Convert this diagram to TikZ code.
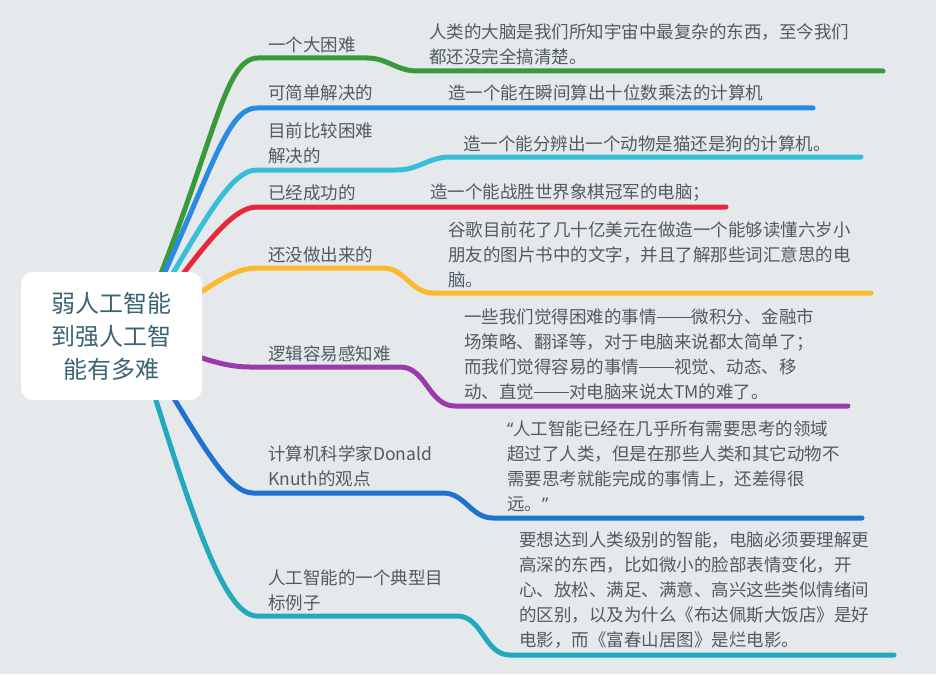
\documentclass[tikz,border=0pt]{standalone}
\usepackage{fontspec}
\newfontfamily\cjkfont{Noto Sans CJK SC}
\newfontfamily\quotefont{Noto Sans}
\usetikzlibrary{backgrounds}

\definecolor{canvasgray}{HTML}{E6E9EC}
\definecolor{textgray}{HTML}{4F5B63}
\definecolor{roottext}{HTML}{3C6475}
\definecolor{cGreen}{HTML}{3A9A3A}
\definecolor{cBlue}{HTML}{2A8BE3}
\definecolor{cCyan}{HTML}{37BFD9}
\definecolor{cRed}{HTML}{E7283A}
\definecolor{cYellow}{HTML}{FBBA2E}
\definecolor{cPurple}{HTML}{9A3AAE}
\definecolor{cDeepBlue}{HTML}{1F72CF}
\definecolor{cTeal}{HTML}{22A9BE}

\newcommand\cjkdash{\rule[0.33em]{2em}{0.06em}}

\tikzset{
  branch/.style={line width=5pt, line cap=round},
  topic/.style={anchor=west, align=left, inner sep=0pt, text=textgray,
    font=\cjkfont\fontsize{17.5}{25}\selectfont},
  detail/.style={topic},
  rootbox/.style={fill=white, rounded corners=12pt, minimum width=181pt,
    minimum height=128pt, align=center, inner sep=0pt, text=roottext,
    font=\cjkfont\fontsize{24}{33}\selectfont}
}

\begin{document}
\begin{tikzpicture}[x=1pt,y=-1pt]
\useasboundingbox (0,0) rectangle (936,674);
\begin{scope}[on background layer]
\fill[canvasgray] (0,0) rectangle (936,674);
\end{scope}

% central topic
\node[rootbox] (root) at (111.5,336) {弱人工智能\\到强人工智\\能有多难};
\coordinate (hub) at ([xshift=24pt]root.center);

% branch labels
\node[topic] (easyhard) at (268,45) {一个大困难};
\node[topic] (simple) at (268,93) {可简单解决的};
\node[topic] (harder) at (268,143.5) {目前比较困难\\解决的};
\node[topic] (done) at (268,193) {已经成功的};
\node[topic] (notyet) at (268,255) {还没做出来的};
\node[topic] (logic) at (268,354) {逻辑容易感知难};
\node[topic] (knuth) at (268,466) {计算机科学家Donald\\Knuth的观点};
\node[topic] (goal) at (268,590.5) {人工智能的一个典型目\\标例子};

% details
\node[detail] (brain) at (429,44.5) {人类的大脑是我们所知宇宙中最复杂的东西，至今我们\\都还没完全搞清楚。};
\node[detail] (multiply) at (448,93) {造一个能在瞬间算出十位数乘法的计算机};
\node[detail] (catdog) at (463,144) {造一个能分辨出一个动物是猫还是狗的计算机。};
\node[detail] (chess) at (430,193) {造一个能战胜世界象棋冠军的电脑；};
\node[detail] (google) at (448,255) {谷歌目前花了几十亿美元在做造一个能够读懂六岁小\\朋友的图片书中的文字，并且了解那些词汇意思的电\\脑。};
\node[detail] (paradox) at (464,354.5) {一些我们觉得困难的事情\cjkdash 微积分、金融市\\场策略、翻译等，对于电脑来说都太简单了；\\而我们觉得容易的事情\cjkdash 视觉、动态、移\\动、直觉\cjkdash 对电脑来说太TM的难了。};
\node[detail] (quote) at (507,466) {{\quotefont “}人工智能已经在几乎所有需要思考的领域\\超过了人类，但是在那些人类和其它动物不\\需要思考就能完成的事情上，还差得很\\远。{\quotefont ”}};
\node[detail] (emotion) at (519,590) {要想达到人类级别的智能，电脑必须要理解更\\高深的东西，比如微小的脸部表情变化，开\\心、放松、满足、满意、高兴这些类似情绪间\\的区别，以及为什么《布达佩斯大饭店》是好\\电影，而《富春山居图》是烂电影。};

% line ends
\coordinate (e1) at (883,71);
\coordinate (e2) at (813,108);
\coordinate (e3) at (861,157);
\coordinate (e4) at (726,207);
\coordinate (e5) at (871,293);
\coordinate (e6) at (848,406);
\coordinate (e7) at (862,518);
\coordinate (e8) at (894,655);

\begin{scope}[on background layer]
\draw[branch, cGreen] (hub) .. controls (215,150) and (222,58) .. (258,58) -- (367,58) to[out=0,in=180] (417,71) -- (e1);
\draw[branch, cBlue] (hub) .. controls (212,175) and (225,108) .. (257,108) -- (e2);
\draw[branch, cCyan] (hub) .. controls (200,230) and (228,170) .. (257,170) -- (397,170) to[out=0,in=180] (450,157) -- (e3);
\draw[branch, cRed] (hub) .. controls (195,260) and (228,207) .. (257,207) -- (e4);
\draw[branch, cYellow] (hub) .. controls (195,300) and (225,268) .. (257,268) -- (383,268) to[out=0,in=180] (433,293) -- (e5);
\draw[branch, cPurple] (hub) .. controls (185,350) and (215,367) .. (250,367) -- (400,367) to[out=0,in=180] (455,406) -- (e6);
\draw[branch, cDeepBlue] (hub) .. controls (195,430) and (225,493) .. (253,493) -- (443,493) to[out=0,in=180] (493,518) -- (e7);
\draw[branch, cTeal] (hub) .. controls (185,490) and (220,616) .. (257,616) -- (457,616) to[out=0,in=180] (510,655) -- (e8);
\end{scope}
\end{tikzpicture}
\end{document}
